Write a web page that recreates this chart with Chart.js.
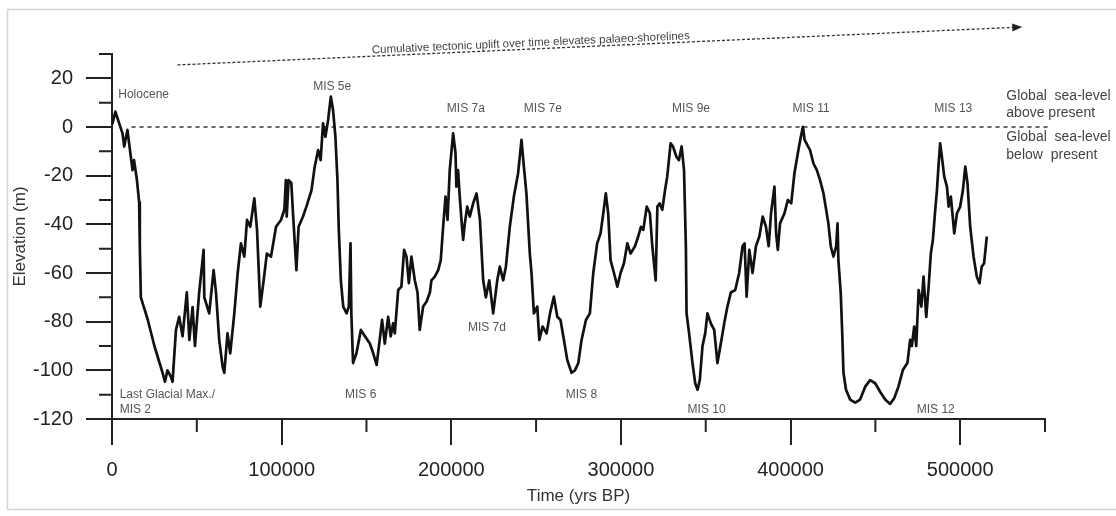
<!DOCTYPE html>
<html>
<head>
<meta charset="utf-8">
<script src="https://cdn.jsdelivr.net/npm/chart.js@4.4.1/dist/chart.umd.min.js"></script>
<style>
  html, body { margin: 0; padding: 0; background: #fff; }
  #wrap { width: 1116px; height: 516px; position: relative; }
</style>
</head>
<body>
<div id="wrap"><canvas id="chart" width="1116" height="516"></canvas></div>
<script>
// sea-level record (years BP / metres relative to present)
const years = [
  0, 300, 2000, 4000, 6200, 7200, 9100, 10100, 12100, 13000, 14700, 16000, 16400, 17000,
  21000, 25000, 29800, 31200, 32700, 34700, 35700, 37700, 39600, 41600, 44100, 45600,
  47500, 48900, 51400, 54000, 54400, 57300, 59900, 61300, 63200, 65200, 66200, 68100,
  69700, 72100, 74100, 76000, 78000, 79600, 81500, 83900, 85500, 87400, 89400, 91300,
  93700, 96700, 99600, 101600, 102500, 103000, 104100, 105700, 106700, 108700, 110000,
  112600, 114600, 117600, 119500, 121500, 123000, 124400, 125800, 127400, 129000, 130300,
  131700, 132900, 133700, 134900, 136300, 138300, 139600, 140600, 141100, 142100, 144100,
  146700, 149100, 152000, 154000, 156000, 157800, 159200, 160800, 162800, 164300, 165700,
  166700, 168700, 170600, 172200, 173600, 175000, 176500, 178500, 180100, 181400, 183400,
  185400, 187400, 188300, 190300, 192300, 193800, 195200, 196600, 197800, 199100, 201100,
  202500, 203000, 204000, 205000, 206000, 207000, 208000, 209400, 210900, 212900, 214900,
  216900, 218800, 220400, 222400, 224700, 227100, 228600, 230600, 232200, 234500, 236900,
  239400, 241400, 242800, 244300, 246300, 247300, 248700, 250700, 251900, 253800, 256200,
  258200, 260500, 262500, 264400, 266400, 268400, 270900, 272900, 274900, 276800, 279400,
  281700, 283700, 286000, 288000, 289600, 291100, 292500, 293900, 295900, 297900, 299800,
  301800, 303800, 305700, 308300, 310200, 311800, 313200, 315200, 317100, 318500, 320500,
  321500, 322800, 324400, 326000, 327300, 329300, 330700, 332700, 334200, 335800, 337200,
  338300, 338700, 340200, 342200, 343800, 345200, 346500, 348100, 349700, 351000, 353000,
  355000, 356900, 358900, 360900, 362800, 364800, 367400, 369700, 371700, 372900, 374100,
  375700, 377600, 379600, 381600, 383600, 385500, 387100, 388500, 390500, 391500, 392500,
  393800, 396400, 398400, 400400, 402300, 404300, 405700, 407300, 408300, 410300, 411500,
  413500, 415500, 417400, 419400, 421000, 422300, 423700, 425300, 426900, 427700, 428200,
  429600, 430400, 431200, 432700, 435100, 438100, 441000, 444000, 446900, 449900, 452800,
  455800, 458700, 461100, 463600, 466200, 468900, 470500, 471500, 472900, 474100, 475500,
  477100, 478400, 480000, 481400, 482700, 483900, 485300, 486300, 487300, 488200, 489200,
  490600, 492200, 493200, 494500, 496500, 498100, 500000, 501600, 503000, 504300, 505900,
  507900, 509800, 511400, 512700, 514100, 515700
];
const seaLevel = [
  3, 1.5, 6.3, 2, -2.6, -8, -1.2, -6.7, -17.7, -13.6, -21.8, -31, -49, -70,
  -79, -90, -101, -104.7, -100, -102.6, -104.7, -83.4, -78, -86, -68, -87.5,
  -74, -90, -68, -50.5, -70, -76.6, -58.8, -68, -87.5, -98.5, -101, -84.8,
  -93, -76.6, -60, -47.8, -53.3, -38.2, -41, -29.3, -42.3, -73.8, -63, -52,
  -53.3, -41, -38.2, -34, -21.8, -36.8, -21.8, -23, -35.5, -58.8, -41,
  -36.8, -32.7, -26, -16.3, -9.5, -13.6, 1.5, -4, 2.9, 12.5, 7,
  -4, -21.8, -42.3, -63, -73.8, -76.6, -73.8, -47.8, -76.6, -97, -93,
  -83.4, -86, -89, -93, -97.8, -87.5, -79.3, -89, -78, -86, -80.7,
  -84.8, -67, -65.6, -50.5, -53.3, -64.2, -53.3, -63, -68, -83.4, -73.8,
  -71.8, -68, -63, -61.5, -58.8, -54.7, -41, -28.6, -38.2, -17.7, -2.6,
  -10.8, -24.5, -17.7, -28.6, -38.2, -46.4, -39.6, -32.7, -36.8, -31.4, -27.3,
  -38.2, -63, -70, -63, -76.6, -63, -57.4, -63, -57.4, -41, -28.6,
  -19, -5.3, -16.3, -27.3, -52, -60, -76.6, -73.8, -87.5, -82, -84.8,
  -76.6, -69.7, -78, -79.3, -87.5, -95.8, -101, -100, -97, -87.5, -79.3,
  -76.6, -60, -47.8, -43.7, -35.5, -27.3, -35.5, -54.7, -60, -65.6, -60,
  -56, -47.8, -52, -49, -45, -41, -42.3, -32.7, -35.5, -49, -63,
  -32.7, -31.4, -34, -26, -20.4, -6.7, -8, -12.2, -13.6, -8, -17.7,
  -49, -76.6, -84.8, -97, -105.3, -108, -104, -90, -84.8, -76.6, -80.7,
  -83.4, -97, -89, -80.7, -73.8, -68, -67, -60, -49, -47.8, -69.7,
  -50.5, -60, -49, -45, -36.8, -41, -49, -35.5, -24.5, -43.7, -50.5,
  -39.6, -35.5, -30, -31.4, -19, -10.8, -5.3, 0.1, -5.3, -8, -9.5,
  -15, -17.7, -21.8, -27.3, -34, -39.6, -49, -53.3, -49, -39.6, -54.7,
  -68.4, -83.4, -101, -108, -112, -113.3, -112, -106.7, -104, -105.3, -108.8,
  -112, -113.8, -111.5, -106.7, -99.9, -97, -87.5, -90, -82, -90, -67,
  -73.8, -61.5, -78, -65.6, -52, -46.4, -34, -26, -15, -6.7, -12.2,
  -20.4, -24.5, -32.7, -28.6, -43.7, -35.5, -32.7, -26, -16.3, -23, -41,
  -53.3, -61.5, -64.2, -57.4, -56, -45
];

const xMajor = [0, 100000, 200000, 300000, 400000, 500000];
const yMajor = [-120, -100, -80, -60, -40, -20, 0, 20];

// present-day sea level reference line
const presentYears = [11500, 552500];
const presentLevel = [0, 0];

// uplift arrow (start / end)
const upliftYears = [38600, 536600];
const upliftLevel = [25.5, 41.1];
const upliftText = 'Cumulative tectonic uplift over time elevates palaeo-shorelines';

const notes = [
  { text: 'Holocene', x: 3700, y: 13.2, align: 'left' },
  { text: 'MIS 5e', x: 129800, y: 16.6, align: 'center' },
  { text: 'MIS 7a', x: 208600, y: 7.7, align: 'center' },
  { text: 'MIS 7e', x: 254000, y: 7.7, align: 'center' },
  { text: 'MIS 9e', x: 341300, y: 7.7, align: 'center' },
  { text: 'MIS 11', x: 412100, y: 7.7, align: 'center' },
  { text: 'MIS 13', x: 495900, y: 7.7, align: 'center' },
  { text: 'MIS 7d', x: 221000, y: -82.3, align: 'center' },
  { text: 'Last Glacial Max./', x: 4500, y: -110.2, align: 'left' },
  { text: 'MIS 2', x: 4500, y: -116, align: 'left' },
  { text: 'MIS 6', x: 146600, y: -110.2, align: 'center' },
  { text: 'MIS 8', x: 276700, y: -110.2, align: 'center' },
  { text: 'MIS 10', x: 350500, y: -116, align: 'center' },
  { text: 'MIS 12', x: 485600, y: -116, align: 'center' }
];
const sideNotes = [
  { text: 'Global  sea-level', x: 527200, y: 12.5 },
  { text: 'above present', x: 527200, y: 5.6 },
  { text: 'Global  sea-level', x: 527200, y: -4 },
  { text: 'below  present', x: 527200, y: -11.5 }
];

const FONT = 'Arial, "Liberation Sans", sans-serif';

const overlay = {
  id: 'overlay',
  beforeDraw(chart) {
    const ctx = chart.ctx;
    ctx.save();
    ctx.strokeStyle = '#d4d4d4';
    ctx.lineWidth = 1.5;
    ctx.strokeRect(7.5, 9.5, 1120, 500);
    ctx.restore();
  },
  afterDraw(chart) {
    const ctx = chart.ctx;
    const xs = chart.scales.x, ys = chart.scales.y;
    ctx.save();

    // minor ticks
    ctx.strokeStyle = '#222';
    ctx.lineWidth = 2;
    ctx.beginPath();
    xs.ticks.forEach(t => {
      if (xMajor.includes(t.value)) return;
      const px = xs.getPixelForValue(t.value);
      ctx.moveTo(px, xs.top);
      ctx.lineTo(px, xs.top + 13);
    });
    ys.ticks.forEach(t => {
      if (yMajor.includes(t.value)) return;
      const py = ys.getPixelForValue(t.value);
      ctx.moveTo(ys.right, py);
      ctx.lineTo(ys.right - 13, py);
    });
    ctx.stroke();

    // uplift arrow
    const x1 = xs.getPixelForValue(upliftYears[0]), y1 = ys.getPixelForValue(upliftLevel[0]);
    const x2 = xs.getPixelForValue(upliftYears[1]), y2 = ys.getPixelForValue(upliftLevel[1]);
    const ang = Math.atan2(y2 - y1, x2 - x1);
    ctx.strokeStyle = '#333';
    ctx.lineWidth = 1.3;
    ctx.setLineDash([3, 2]);
    ctx.beginPath();
    ctx.moveTo(x1, y1);
    ctx.lineTo(x2 - 8 * Math.cos(ang), y2 - 8 * Math.sin(ang));
    ctx.stroke();
    ctx.setLineDash([]);
    ctx.fillStyle = '#222';
    ctx.beginPath();
    ctx.moveTo(x2, y2);
    ctx.lineTo(x2 - 10 * Math.cos(ang) + 4 * Math.sin(ang), y2 - 10 * Math.sin(ang) - 4 * Math.cos(ang));
    ctx.lineTo(x2 - 10 * Math.cos(ang) - 4 * Math.sin(ang), y2 - 10 * Math.sin(ang) + 4 * Math.cos(ang));
    ctx.closePath();
    ctx.fill();

    // text along the arrow
    const tx = xs.getPixelForValue(246900);
    const ty = y1 + (tx - x1) * Math.tan(ang) - 6;
    ctx.save();
    ctx.translate(tx, ty);
    ctx.rotate(ang);
    ctx.fillStyle = '#444';
    ctx.font = '11.5px ' + FONT;
    ctx.textAlign = 'center';
    ctx.textBaseline = 'middle';
    ctx.fillText(upliftText, 0, 0);
    ctx.restore();

    // stage labels
    ctx.fillStyle = '#555';
    ctx.font = '12px ' + FONT;
    ctx.textBaseline = 'middle';
    notes.forEach(n => {
      ctx.textAlign = n.align;
      ctx.fillText(n.text, xs.getPixelForValue(n.x), ys.getPixelForValue(n.y));
    });
    ctx.fillStyle = '#444';
    ctx.font = '14px ' + FONT;
    ctx.textAlign = 'left';
    sideNotes.forEach(n => {
      ctx.fillText(n.text, xs.getPixelForValue(n.x), ys.getPixelForValue(n.y));
    });
    ctx.restore();
  }
};

new Chart(document.getElementById('chart'), {
  type: 'line',
  data: {
    datasets: [
      {
        label: 'Sea level',
        data: years.map((x, i) => ({ x: x, y: seaLevel[i] })),
        borderColor: '#111',
        borderWidth: 2.7,
        borderJoinStyle: 'round',
        pointRadius: 0,
        tension: 0
      },
      {
        label: 'Present',
        data: presentYears.map((x, i) => ({ x: x, y: presentLevel[i] })),
        borderColor: '#333',
        borderWidth: 1.5,
        borderDash: [4, 4],
        pointRadius: 0,
        clip: false
      }
    ]
  },
  options: {
    responsive: false,
    animation: false,
    events: [],
    layout: { padding: { left: 0, top: 54, right: 71, bottom: 6 } },
    plugins: { legend: { display: false }, tooltip: { enabled: false } },
    scales: {
      x: {
        type: 'linear',
        min: 0,
        max: 550000,
        afterFit: s => { s.height = 91; },
        border: { display: true, color: '#222', width: 2 },
        grid: {
          drawOnChartArea: false,
          drawTicks: true,
          tickLength: 26,
          color: '#222',
          lineWidth: c => (c.tick && xMajor.includes(c.tick.value)) ? 2 : 0
        },
        ticks: {
          stepSize: 50000,
          autoSkip: false,
          maxRotation: 0,
          padding: 13,
          color: '#222',
          font: { family: FONT, size: 20 },
          callback: v => xMajor.includes(v) ? String(v) : ''
        },
        title: {
          display: true,
          text: 'Time (yrs BP)',
          color: '#333',
          font: { family: FONT, size: 17 },
          padding: { top: 0, bottom: 3 }
        }
      },
      y: {
        min: -120,
        max: 30,
        afterFit: s => { s.width = 112; },
        border: { display: true, color: '#222', width: 2 },
        grid: {
          drawOnChartArea: false,
          drawTicks: true,
          tickLength: 26,
          color: '#222',
          lineWidth: c => (c.tick && yMajor.includes(c.tick.value)) ? 2 : 0
        },
        ticks: {
          stepSize: 10,
          autoSkip: false,
          padding: 13,
          color: '#222',
          font: { family: FONT, size: 20 },
          callback: v => yMajor.includes(v) ? String(v) : ''
        },
        title: {
          display: true,
          text: 'Elevation (m)',
          color: '#333',
          font: { family: FONT, size: 17 },
          padding: { top: 10, bottom: 0 }
        }
      }
    }
  },
  plugins: [overlay]
});
</script>
</body>
</html>
